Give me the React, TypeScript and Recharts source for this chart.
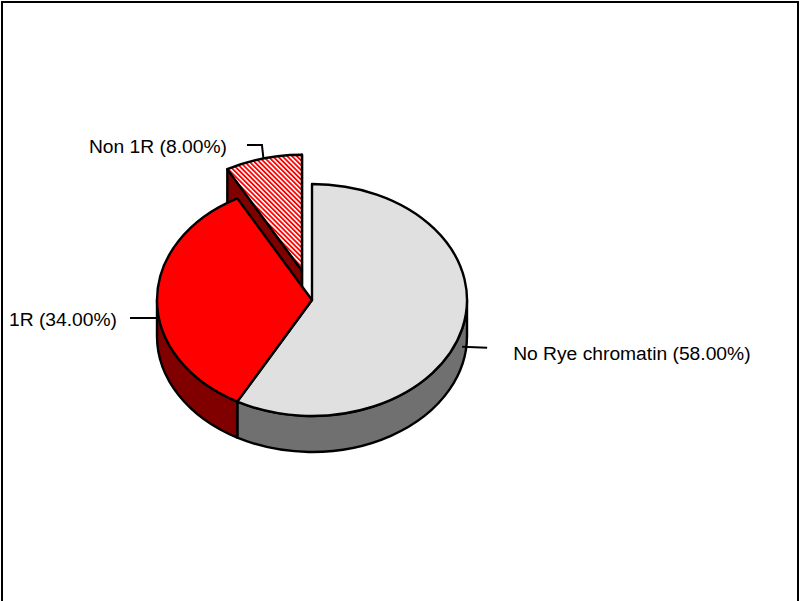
import React from 'react';
import { PieChart, Pie } from 'recharts';

// ---- data ----
const categories = ['No Rye chromatin', '1R', 'Non 1R'];
const shares = [58, 34, 8];
const data = categories.map((name, i) => ({ name, value: shares[i] }));

// ---- styling / geometry constants ----
const CX = 312;
const CY = 300;
const RX = 155;
const RY = 116;
const DEPTH = 36;
const EXPLODE: Record<string, number> = { 'Non 1R': 0.26 };
const TOP_FILL = ['#e0e0e0', '#ff0000', 'url(#hatchRed)'];
const SIDE_FILL = ['#707070', '#800000', '#800000'];
const FONT = "'Liberation Sans', Arial, sans-serif";
const FONT_SIZE = 18;
const SCALE_X = 1.07;
const SW = 2.4;
const RAD = Math.PI / 180;

const LABEL_LAYOUT: Record<string, { leader: [number, number][]; text: [number, number]; anchor: 'start' | 'end' }> = {
  'No Rye chromatin': { leader: [[25, 1]], text: [51, 13], anchor: 'start' },
  '1R': { leader: [[-27, 0]], text: [-40, 8], anchor: 'end' },
  'Non 1R': { leader: [[-1.5, -13.5], [-16.5, -13.5]], text: [-36.5, -5.3], anchor: 'end' },
};

function nameOf(p: any): string {
  return p.name ?? p.payload?.name ?? p.payload?.payload?.name;
}

function geom(p: any) {
  const rx = p.outerRadius;
  const ry = (p.outerRadius * RY) / RX;
  const name = nameOf(p);
  const k = EXPLODE[name] || 0;
  const mid = p.midAngle ?? (p.startAngle + p.endAngle) / 2;
  const ox = k * rx * Math.cos(mid * RAD);
  const oy = -k * ry * Math.sin(mid * RAD);
  const cx = p.cx + ox;
  const cy = p.cy + oy;
  const P = (a: number, dy = 0): [number, number] => [cx + rx * Math.cos(a * RAD), cy - ry * Math.sin(a * RAD) + dy];
  return { rx, ry, cx, cy, P, mid, k };
}

const RadialFaces = (p: any) => {
  const name = nameOf(p);
  const i = categories.indexOf(name);
  if (!(EXPLODE[name] > 0)) return <g />;
  const g = geom(p);
  return (
    <g>
      {[p.startAngle, p.endAngle].map((a: number, j: number) => {
        const e = g.P(a);
        const d = `M${g.cx},${g.cy} L${e[0]},${e[1]} L${e[0]},${e[1] + DEPTH} L${g.cx},${g.cy + DEPTH} Z`;
        return <path key={j} d={d} fill={SIDE_FILL[i]} stroke="#000" strokeWidth={SW} strokeLinejoin="round" />;
      })}
    </g>
  );
};

const CurvedSide = (p: any) => {
  const name = nameOf(p);
  const i = categories.indexOf(name);
  const g = geom(p);
  const s = Math.max(p.startAngle, p.endAngle);
  const e = Math.min(p.startAngle, p.endAngle);
  const paths: React.ReactNode[] = [];
  for (let k = -2; k <= 2; k++) {
    const lo = Math.max(e, -180 + 360 * k);
    const hi = Math.min(s, 360 * k);
    if (hi - lo > 0.01) {
      const a = g.P(hi);
      const b = g.P(lo);
      const large = hi - lo > 180 ? 1 : 0;
      const d = `M${a[0]},${a[1]} A${g.rx},${g.ry} 0 ${large} 1 ${b[0]},${b[1]} L${b[0]},${b[1] + DEPTH} A${g.rx},${g.ry} 0 ${large} 0 ${a[0]},${a[1] + DEPTH} Z`;
      paths.push(<path key={k} d={d} fill={SIDE_FILL[i]} stroke="#000" strokeWidth={SW} strokeLinejoin="round" />);
    }
  }
  return <g>{paths}</g>;
};

const TopFace = (p: any) => {
  const name = nameOf(p);
  const i = categories.indexOf(name);
  const g = geom(p);
  const s = Math.max(p.startAngle, p.endAngle);
  const e = Math.min(p.startAngle, p.endAngle);
  const a = g.P(s);
  const b = g.P(e);
  const large = s - e > 180 ? 1 : 0;
  const d = `M${g.cx},${g.cy} L${a[0]},${a[1]} A${g.rx},${g.ry} 0 ${large} 1 ${b[0]},${b[1]} Z`;
  return (
    <g>
      {i === 2 && (
        <defs>
          <pattern id="hatchRed" patternUnits="userSpaceOnUse" width={3.4} height={3.4} patternTransform="rotate(-45)">
            <rect x={0} y={0} width={3.4} height={3.4} fill="#ffffff" />
            <rect x={0} y={0} width={1.8} height={3.4} fill="#ff0000" />
          </pattern>
        </defs>
      )}
      <path d={d} fill={TOP_FILL[i]} stroke="#000" strokeWidth={SW} strokeLinejoin="round" />
    </g>
  );
};

const renderLabel = (p: any) => {
  const name = nameOf(p);
  const g = geom(p);
  const lay = LABEL_LAYOUT[name];
  if (!lay) return null;
  const m = g.mid;
  const base = g.P(m, Math.sin(m * RAD) <= 0.01 ? DEPTH / 2 : 0);
  const pts = [base, ...lay.leader.map(([dx, dy]) => [base[0] + dx, base[1] + dy])];
  const total = shares.reduce((s, v) => s + v, 0);
  const idx = categories.indexOf(name);
  const pct = ((shares[idx] / total) * 100).toFixed(2);
  const tx = base[0] + lay.text[0];
  const ty = base[1] + lay.text[1];
  return (
    <g key={`lbl-${name}`}>
      <polyline points={pts.map((q) => `${q[0]},${q[1]}`).join(' ')} fill="none" stroke="#000" strokeWidth={2} />
      <text
        x={0}
        y={0}
        transform={`translate(${tx},${ty}) scale(${SCALE_X},1)`}
        textAnchor={lay.anchor}
        fontFamily={FONT}
        fontSize={FONT_SIZE}
        fill="#000"
      >
        {`${name} (${pct}%)`}
      </text>
    </g>
  );
};

export default function App() {
  const common = {
    data,
    dataKey: 'value',
    nameKey: 'name',
    cx: CX,
    cy: CY,
    outerRadius: RX,
    startAngle: 90,
    endAngle: -270,
    isAnimationActive: false,
    stroke: 'none',
  };
  return (
    <div style={{ position: 'absolute', left: 0, top: 0, width: 801, height: 601, overflow: 'hidden', background: '#fff' }}>
      <div
        style={{
          position: 'absolute',
          left: 1,
          top: 1,
          width: 798,
          height: 640,
          boxSizing: 'border-box',
          borderLeft: '2px solid #000',
          borderTop: '2px solid #000',
          borderRight: '2px solid #000',
        }}
      />
      <div style={{ position: 'absolute', left: 0, top: 0 }}>
        <PieChart width={801} height={601} margin={{ top: 0, right: 0, bottom: 0, left: 0 }}>
          <Pie {...(common as any)} shape={RadialFaces} label={false} labelLine={false} />
          <Pie {...(common as any)} shape={CurvedSide} label={false} labelLine={false} />
          <Pie {...(common as any)} shape={TopFace} label={renderLabel} labelLine={false} />
        </PieChart>
      </div>
    </div>
  );
}
